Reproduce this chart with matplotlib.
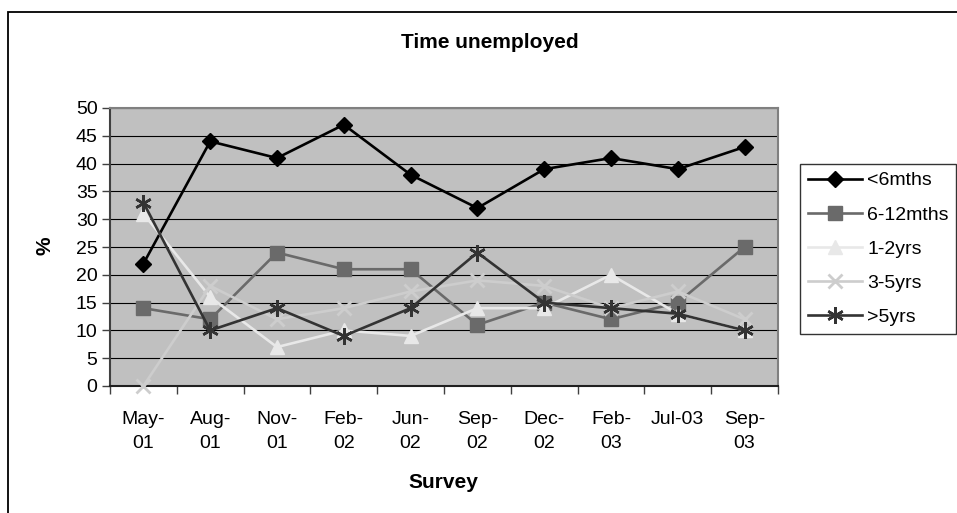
import matplotlib
matplotlib.use("Agg")
import matplotlib.pyplot as plt
from matplotlib.patches import Rectangle
import numpy as np

plt.rcParams['font.family'] = ['Liberation Sans', 'DejaVu Sans']

surveys = ["May-\n01", "Aug-\n01", "Nov-\n01", "Feb-\n02", "Jun-\n02",
           "Sep-\n02", "Dec-\n02", "Feb-\n03", "Jul-03", "Sep-\n03"]

under_6mths = [22, 44, 41, 47, 38, 32, 39, 41, 39, 43]
m6_12 = [14, 12, 24, 21, 21, 11, 15, 12, 15, 25]
y1_2 = [31, 16, 7, 10, 9, 14, 14, 20, 13, 10]
y3_5 = [0, 18, 12, 14, 17, 19, 18, 14, 17, 12]
over_5yrs = [33, 10, 14, 9, 14, 24, 15, 14, 13, 10]

series_names = ["<6mths", "6-12mths", "1-2yrs", "3-5yrs", ">5yrs"]
y_ticks = [0, 5, 10, 15, 20, 25, 30, 35, 40, 45, 50]

W, H = 957, 513
fig = plt.figure(figsize=(W / 100, H / 100), dpi=100)
fig.patch.set_facecolor("white")

# outer chart-area border (open to the right and bottom)
fig.patches.append(Rectangle((8 / W, -0.1), 1.2, 1 - 12 / H + 0.1,
                             transform=fig.transFigure, fill=False,
                             edgecolor="black", linewidth=1.3, zorder=0))

ax = fig.add_axes([110 / W, 1 - 386 / H, (778 - 110) / W, (386 - 108) / H])
ax.set_facecolor("#C0C0C0")

x = np.arange(len(surveys))
styles = [
    dict(color="#000000", marker="D", ms=8.5, mec="#000000", mfc="#000000"),
    dict(color="#6A6A6A", marker="s", ms=9.5, mec="#6A6A6A", mfc="#6A6A6A"),
    dict(color="#E8E8E8", marker="^", ms=10.5, mec="#E8E8E8", mfc="#E8E8E8"),
    dict(color="#CDCDCD", marker="x", ms=10, mec="#CDCDCD", mew=2),
    dict(color="#333333", marker=(6, 2, 0), ms=12, mec="#333333", mew=1.8),
]
data = [under_6mths, m6_12, y1_2, y3_5, over_5yrs]
lines = []
for vals, name, st in zip(data, series_names, styles):
    ln, = ax.plot(x, vals, lw=1.9, label=name, clip_on=False, zorder=3, **st)
    lines.append(ln)

ax.set_xlim(-0.5, len(surveys) - 0.5)
ax.set_ylim(0, 50)
ax.set_yticks(y_ticks)
ax.set_yticklabels([str(v) for v in y_ticks])
ax.grid(axis="y", color="black", linewidth=0.8)
ax.set_axisbelow(True)

# category boundaries carry the tick marks, centres carry the labels
ax.set_xticks(np.arange(-0.5, len(surveys), 1.0))
ax.set_xticklabels([])
ax.set_xticks(x, minor=True)
ax.set_xticklabels(surveys, minor=True, fontsize=14, linespacing=1.5)
ax.tick_params(axis="x", which="major", length=6, width=1, color="#404040",
               direction="out")
ax.tick_params(axis="x", which="minor", length=0, pad=18)
ax.tick_params(axis="y", length=6, width=1, color="#404040", labelsize=14,
               pad=3)

for side in ("top", "right"):
    ax.spines[side].set_color("#808080")
    ax.spines[side].set_linewidth(1.5)
ax.spines["left"].set_color("#404040")
ax.spines["left"].set_linewidth(1.5)
ax.spines["bottom"].set_color("#202020")
ax.spines["bottom"].set_linewidth(1.5)

fig.text(490 / W, 1 - 43 / H, "Time unemployed", ha="center", va="center",
         fontsize=15, fontweight="bold")
fig.text(443 / W, 1 - 482 / H, "Survey", ha="center", va="center",
         fontsize=15, fontweight="bold")
fig.text(45 / W, 1 - 246 / H, "%", ha="center", va="center",
         fontsize=15, fontweight="bold", rotation=90)

leg = ax.legend(handles=lines, loc="upper left",
                bbox_to_anchor=(800 / W, 1 - 164 / H),
                bbox_transform=fig.transFigure, borderaxespad=0,
                fontsize=14, frameon=True, fancybox=False,
                handlelength=2.8, handletextpad=0.25, labelspacing=0.85,
                borderpad=0.4, markerscale=1.0)
leg.get_frame().set_edgecolor("black")
leg.get_frame().set_linewidth(1.0)

fig.savefig("out.png", dpi=100, facecolor="white")
